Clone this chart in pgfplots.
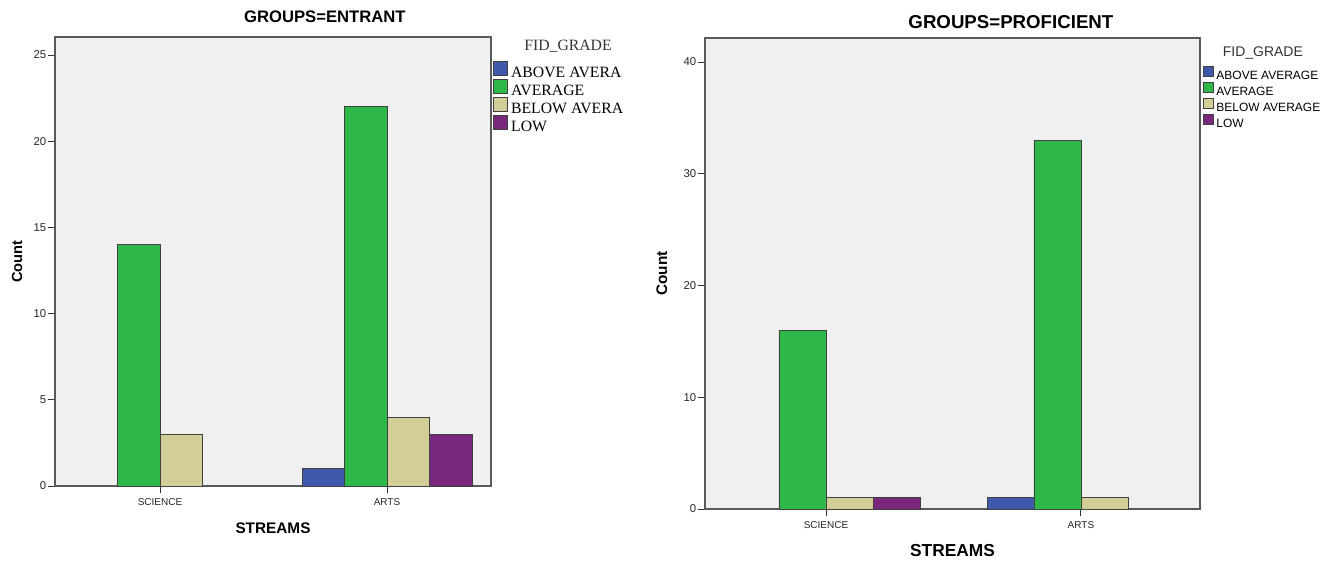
\documentclass[border=0pt]{standalone}
\usepackage{fontspec}
\setmainfont{Liberation Sans}
\newfontfamily\serifleg{Liberation Serif}
\usepackage{pgfplots}
\pgfplotsset{compat=1.18}
\definecolor{cblue}{RGB}{62,88,172}
\definecolor{cgreen}{RGB}{46,184,72}
\definecolor{ctan}{RGB}{211,206,152}
\definecolor{cpurple}{RGB}{122,40,125}
\definecolor{bgc}{RGB}{240,240,240}
\pgfplotsset{
  spss/.style={
    scale only axis,
    anchor=south west,
    clip=false,
    ybar=0pt,
    every axis title shift=0pt,
    axis background/.style={fill=bgc},
    axis line style={black!65,line width=0.8pt},
    tick pos=left,
    tick align=outside,
    major tick length=5.5pt,
    tick style={black!80,line width=0.7pt},
    xtick={0,1},
    xticklabels={SCIENCE,ARTS},
    ymin=0,
    /pgf/number format/assume math mode=true,
    xticklabel style={font=\fontsize{7.5}{8}\selectfont,text=black!85},
    yticklabel style={font=\fontsize{8.5}{9}\selectfont,text=black!85,xshift=2.5pt},
    cycle list={{fill=cblue,draw=black!75,line width=0.6pt},
                {fill=cgreen,draw=black!75,line width=0.6pt},
                {fill=ctan,draw=black!75,line width=0.6pt},
                {fill=cpurple,draw=black!75,line width=0.6pt}},
    legend cell align=left,
  }
}
\begin{document}
\begin{tikzpicture}[x=1pt,y=1pt]
\path (0,0) rectangle (1007.25,422.25);
\begin{axis}[spss,
  at={(41.25pt,57.75pt)},
  width=327pt, height=336.75pt,
  xmin=-0.4626, xmax=1.458,
  ymax=26.05,
  ytick={0,5,10,15,20,25},
  bar width=31.9pt,
  title={GROUPS=ENTRANT},
  title style={font=\bfseries\fontsize{12.5}{14}\selectfont, at={(axis description cs:0.619,1.0445)}, anchor=center, yshift=0pt},
  xlabel={STREAMS},
  xlabel style={font=\bfseries\fontsize{11.5}{13}\selectfont, at={(axis description cs:0.5,0)}, anchor=center, yshift=-31.5pt},
  ylabel={Count},
  ylabel style={font=\bfseries\fontsize{11}{13}\selectfont, at={(axis description cs:-0.0872,0.5)}, anchor=center},
  legend style={at={(axis description cs:1.0046,0.938)}, anchor=north west, draw=none, fill=none, inner sep=0pt, outer sep=0pt, row sep=0pt,
    font=\serifleg\fontsize{11.8}{13}\selectfont,
    nodes={inner sep=0pt, text height=9.5pt, text depth=4pt},
    cells={inner sep=0pt},
    /tikz/every odd column/.append style={column sep=2.5pt}},
  legend image code/.code={\path (0pt,0pt) -- (10.5pt,0pt);\draw[#1,draw=black!75,line width=0.6pt,overlay] (0pt,-1.25pt) rectangle (10.5pt,9.25pt);},
]
\addplot coordinates {(1,1)};
\addplot coordinates {(0,14) (1,22)};
\addplot coordinates {(0,3) (1,4)};
\addplot coordinates {(1,3)};
\legend{ABOVE AVERA,AVERAGE,BELOW AVERA,LOW}
\node[font=\serifleg\fontsize{11.8}{13}\selectfont, text=black!80] at (axis description cs:1.1766,0.98) {FID\_GRADE};
\end{axis}
\begin{axis}[spss,
  at={(528.75pt,40.5pt)},
  width=371.25pt, height=353.25pt,
  xmin=-0.4745, xmax=1.467,
  ymax=42.15,
  ytick={0,10,20,30,40},
  bar width=35.25pt,
  title={GROUPS=PROFICIENT},
  title style={font=\bfseries\fontsize{14}{16}\selectfont, at={(axis description cs:0.618,1.034)}, anchor=center, yshift=0pt},
  xlabel={STREAMS},
  xlabel style={font=\bfseries\fontsize{13}{15}\selectfont, at={(axis description cs:0.5,0)}, anchor=center, yshift=-31pt},
  ylabel={Count},
  ylabel style={font=\bfseries\fontsize{11.5}{13}\selectfont, at={(axis description cs:-0.087,0.5)}, anchor=center},
  legend style={at={(axis description cs:1.006,0.9366)}, anchor=north west, draw=none, fill=none, inner sep=0pt, outer sep=0pt, row sep=0pt,
    font=\fontsize{9}{10}\selectfont,
    nodes={inner sep=0pt, text height=8.5pt, text depth=3.5pt},
    cells={inner sep=0pt},
    /tikz/every odd column/.append style={column sep=2pt}},
  legend image code/.code={\path (0pt,0pt) -- (7.5pt,0pt);\draw[#1,draw=black!75,line width=0.6pt,overlay] (0pt,-0.55pt) rectangle (7.5pt,6.95pt);},
]
\addplot coordinates {(1,1)};
\addplot coordinates {(0,16) (1,33)};
\addplot coordinates {(0,1) (1,1)};
\addplot coordinates {(0,1)};
\legend{ABOVE AVERAGE,AVERAGE,BELOW AVERAGE,LOW}
\node[font=\fontsize{10.5}{12}\selectfont, text=black!80] at (axis description cs:1.127,0.968) {FID\_GRADE};
\end{axis}
\end{tikzpicture}
\end{document}
